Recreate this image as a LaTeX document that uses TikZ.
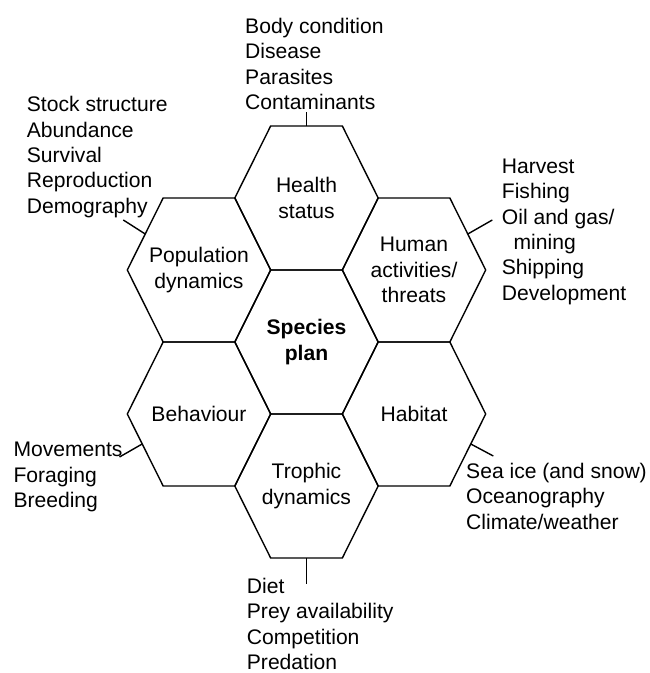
\documentclass[tikz,border=0pt]{standalone}
\usepackage{fontspec}
\setmainfont{Liberation Sans}
\usetikzlibrary{calc}

\begin{document}
\begin{tikzpicture}[x=1pt, y=1pt,
    hexline/.style={line width=1.4pt, line join=miter},
    ticklink/.style={line width=1.4pt},
    topic/.style={align=center, inner sep=0pt, font=\fontsize{21.1}{25.4}\selectfont},
    items/.style={align=left, anchor=base west, inner sep=0pt, font=\fontsize{21.1}{25.4}\selectfont}]

  \useasboundingbox (0,0) rectangle (649,673);

  % Hexagon cells (centre x / centre y), flat top, stretched upright
  \foreach \cx/\cy in {306.5/331, 306.5/475, 306.5/187, 199/403, 414/403, 199/259, 414/259} {
    \draw[hexline] (\cx-71.7,\cy) -- ++(35.85,72) -- ++(71.7,0) -- ++(35.85,-72)
      -- ++(-35.85,-72) -- ++(-71.7,0) -- cycle;
  }

  % Topics inside the cells
  \node[topic, font=\fontsize{21.1}{25.4}\selectfont\bfseries] (plan) at (306.5,331) {Species\\plan};
  \node[topic] (health) at (306.5,475) {Health\\status};
  \node[topic] (trophic) at (306.5,187) {Trophic\\dynamics};
  \node[topic] (pop) at (199,403) {Population\\dynamics};
  \node[topic] (human) at (414,403) {Human\\activities/\\threats};
  \node[topic] (behav) at (199,259) {Behaviour};
  \node[topic] (habitat) at (414,259) {Habitat};

  % Lists round the outside (placed by the baseline of their last line)
  \node[items] (healthList) at (245,563.5) {Body condition\\Disease\\Parasites\\Contaminants};
  \node[items] (popList) at (26.7,459.7) {Stock structure\\Abundance\\Survival\\Reproduction\\Demography};
  \node[items] (humanList) at (501.7,372.7) {Harvest\\Fishing\\Oil and gas/\\\hspace*{11.7pt}mining\\Shipping\\Development};
  \node[items] (behavList) at (13.3,165.5) {Movements\\Foraging\\Breeding};
  \node[items] (habitatList) at (466,143.9) {Sea ice (and snow)\\Oceanography\\Climate/weather};
  \node[items] (trophicList) at (246.7,3.5) {Diet\\Prey availability\\Competition\\Predation};

  % Short links from cell edges to the lists
  \coordinate (healthEdge) at ($(health)+(0,72)$);
  \coordinate (healthEnd) at ($(health)+(0,86)$);
  \coordinate (popEdge) at ($(pop)+(-53.8,36)$);
  \coordinate (popEnd) at ($(pop)+(-75.7,50)$);
  \coordinate (humanEdge) at ($(human)+(53.8,36)$);
  \coordinate (humanEnd) at ($(human)+(78.3,50)$);
  \coordinate (behavEdge) at ($(behav)+(-56.8,-30)$);
  \coordinate (behavEnd) at ($(behav)+(-79.5,-43)$);
  \coordinate (habitatEdge) at ($(habitat)+(56.8,-30)$);
  \coordinate (habitatEnd) at ($(habitat)+(79.3,-42)$);
  \coordinate (trophicEdge) at ($(trophic)+(0,-72)$);
  \coordinate (trophicEnd) at ($(trophic)+(0,-98)$);
  \foreach \a in {health, pop, human, behav, habitat, trophic} {
    \draw[ticklink] (\a Edge) -- (\a End);
  }
\end{tikzpicture}
\end{document}
